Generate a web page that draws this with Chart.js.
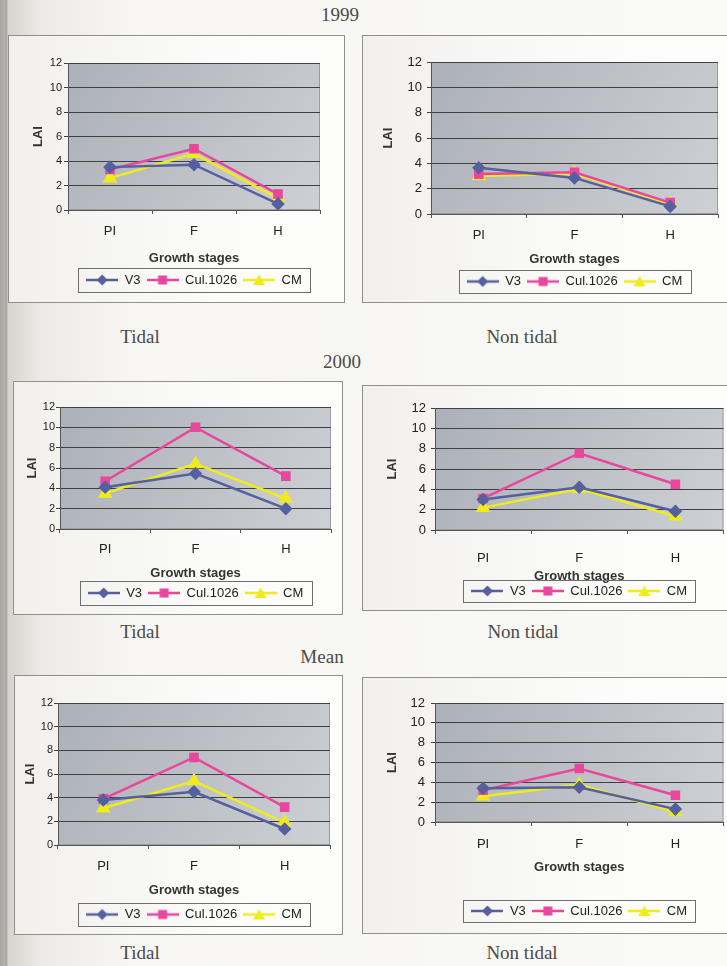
<!DOCTYPE html>
<html lang="en">
<head>
<meta charset="UTF-8">
<title>LAI at growth stages</title>
<script src="https://cdn.jsdelivr.net/npm/chart.js"></script>
<style>
  body {
    margin: 0;
    width: 727px;
    height: 966px;
    overflow: hidden;
    position: relative;
    background: linear-gradient(to right, #a6a49f 0, #b9b7b2 5px, #9d9b96 6px, #d6d4ce 8px, #ebeae6 40px, #f7f6f3 130px, #f9f9f7 100%);
    font-family: "Liberation Serif", "Times New Roman", serif;
  }
  .lbl {
    position: absolute;
    transform: translate(-50%, -50%);
    color: #4a4a4a;
    font-size: 19px;
    white-space: nowrap;
  }
  .box {
    position: absolute;
    border: 1px solid #8f8f8f;
    background: linear-gradient(to right, #f1f0ed, #fbfbf9 60%, #fdfdfc);
  }
  .box canvas { position: absolute; left: -1px; top: -1px; }
</style>
</head>
<body>
<div class="lbl" style="left:340px;top:15px">1999</div>
<div class="lbl" style="left:342px;top:362px">2000</div>
<div class="lbl" style="left:322px;top:657px">Mean</div>
<div class="lbl" style="left:140px;top:337px">Tidal</div>
<div class="lbl" style="left:522px;top:337px">Non tidal</div>
<div class="lbl" style="left:140px;top:632px">Tidal</div>
<div class="lbl" style="left:523px;top:632px">Non tidal</div>
<div class="lbl" style="left:140px;top:953px">Tidal</div>
<div class="lbl" style="left:522px;top:953px">Non tidal</div>

<div class="box" id="b1"><canvas id="c1"></canvas></div>
<div class="box" id="b2"><canvas id="c2"></canvas></div>
<div class="box" id="b3"><canvas id="c3"></canvas></div>
<div class="box" id="b4"><canvas id="c4"></canvas></div>
<div class="box" id="b5"><canvas id="c5"></canvas></div>
<div class="box" id="b6"><canvas id="c6"></canvas></div>

<script>
  // growth stages and varieties
  const stages = ['PI', 'F', 'H'];
  const seriesNames = ['V3', 'Cul.1026', 'CM'];
  const yMin = 0, yMax = 12, yStep = 2;

  // LAI
  const v3Tidal1999 = [3.5, 3.7, 0.5];
  const culTidal1999 = [3.3, 5.0, 1.3];
  const cmTidal1999 = [2.6, 4.6, 0.95];

  const v3NonTidal1999 = [3.65, 2.85, 0.6];
  const culNonTidal1999 = [3.15, 3.3, 0.9];
  const cmNonTidal1999 = [3.0, 3.2, 0.8];

  const v3Tidal2000 = [4.1, 5.45, 2.0];
  const culTidal2000 = [4.7, 10.0, 5.2];
  const cmTidal2000 = [3.5, 6.4, 3.0];

  const v3NonTidal2000 = [3.0, 4.2, 1.85];
  const culNonTidal2000 = [3.1, 7.55, 4.5];
  const cmNonTidal2000 = [2.2, 4.05, 1.35];

  const v3TidalMean = [3.8, 4.5, 1.35];
  const culTidalMean = [3.9, 7.4, 3.2];
  const cmTidalMean = [3.1, 5.4, 1.9];

  const v3NonTidalMean = [3.4, 3.5, 1.3];
  const culNonTidalMean = [3.2, 5.4, 2.7];
  const cmNonTidalMean = [2.6, 3.75, 1.0];

  const seriesColors = ['#55609e', '#e8479c', '#f0ec1c'];
  const markerStyles = ['rectRot', 'rect', 'triangle'];
  const sansFont = '"Liberation Sans", Arial, sans-serif';

  // small line + marker picture for the legend, like Excel's
  function legendIcon(color, style) {
    var c = document.createElement('canvas');
    c.width = 32; c.height = 14;
    var x = c.getContext('2d');
    x.strokeStyle = color; x.lineWidth = 2.5;
    x.beginPath(); x.moveTo(0, 7); x.lineTo(32, 7); x.stroke();
    x.fillStyle = color;
    x.beginPath();
    if (style === 'rectRot') {
      x.moveTo(16, 1.5); x.lineTo(21.5, 7); x.lineTo(16, 12.5); x.lineTo(10.5, 7);
    } else if (style === 'rect') {
      x.rect(11.5, 2.5, 9, 9);
    } else {
      x.moveTo(16, 1.5); x.lineTo(22, 12); x.lineTo(10, 12);
    }
    x.closePath(); x.fill();
    return c;
  }
  const icons = seriesColors.map((c, i) => legendIcon(c, markerStyles[i]));

  // grey plot area and the frame round the legend
  const excelLook = {
    id: 'excelLook',
    beforeDraw(chart) {
      var ctx = chart.ctx, a = chart.chartArea;
      var g = ctx.createLinearGradient(a.left, a.top, a.right, a.bottom);
      g.addColorStop(0, '#acb0b8');
      g.addColorStop(1, '#cdd0d4');
      ctx.save();
      ctx.fillStyle = g;
      ctx.fillRect(a.left, a.top, a.right - a.left, a.bottom - a.top);
      ctx.strokeStyle = '#9a9ca0';
      ctx.lineWidth = 1;
      ctx.strokeRect(a.left + 0.5, a.top + 0.5, a.right - a.left - 1, a.bottom - a.top - 1);
      ctx.restore();
    },
    afterDraw(chart) {
      var lg = chart.legend, hb = lg.legendHitBoxes;
      if (!hb || !hb.length) return;
      var fs = chart.options.plugins.legend.labels.font.size;
      var left = Math.min.apply(null, hb.map(h => h.left)) - 8;
      var right = Math.max.apply(null, hb.map(h => h.left + h.width)) + 8;
      var cy = hb[0].top + fs / 2;
      var half = chart.$legendHalf;
      var ctx = chart.ctx;
      ctx.save();
      ctx.strokeStyle = '#6f6f6f';
      ctx.lineWidth = 1;
      ctx.strokeRect(Math.round(left) + 0.5, Math.round(cy - half) + 0.5, Math.round(right - left), Math.round(half * 2));
      ctx.restore();
    }
  };

  function drawChart(n, box, lay, v3, cul, cm) {
    var div = document.getElementById('b' + n);
    div.style.left = box.x + 'px';
    div.style.top = box.y + 'px';
    div.style.width = (box.w - 2) + 'px';
    div.style.height = (box.h - 2) + 'px';
    var cv = document.getElementById('c' + n);
    cv.width = box.w; cv.height = box.h;

    var fs = lay.fs, yfs = lay.yFs || fs, lh = fs * 1.2, tickLen = 4, legPad = 6;
    var legCenter = (lay.legTop + lay.legBot) / 2;
    var legendTop = legCenter - legPad - fs / 2;
    var legendH = fs + legPad + 10;
    var padBottom = box.h - (legendTop + legendH);
    var xAxisH = legendTop - lay.b;

    var values = [v3, cul, cm];
    var chart = new Chart(cv.getContext('2d'), {
      type: 'line',
      data: {
        labels: stages,
        datasets: seriesNames.map((name, i) => ({
          label: name,
          data: values[i],
          borderColor: seriesColors[i],
          backgroundColor: seriesColors[i],
          pointBackgroundColor: seriesColors[i],
          pointBorderColor: seriesColors[i],
          pointStyle: markerStyles[i],
          pointRadius: i === 2 ? 6 : 5,
          borderWidth: 2.5,
          tension: 0
        }))
      },
      options: {
        responsive: false,
        animation: false,
        layout: { padding: { left: 0, top: lay.t, right: box.w - lay.r, bottom: padBottom } },
        scales: {
          x: {
            offset: true,
            grid: { offset: true, drawOnChartArea: false, drawTicks: true, tickLength: tickLen, color: '#555' },
            border: { color: '#555' },
            ticks: { color: '#222', font: { family: sansFont, size: fs }, padding: lay.xLab - fs / 2 - tickLen },
            title: {
              display: true, text: 'Growth stages', color: '#333',
              font: { family: sansFont, size: fs, weight: 'bold' },
              padding: { top: 0, bottom: xAxisH - lay.xTitle - lh / 2 }
            },
            afterFit(s) { s.height = xAxisH; }
          },
          y: {
            min: yMin, max: yMax,
            grid: { color: '#3f4045', tickLength: tickLen, drawTicks: true },
            border: { color: '#555' },
            ticks: { stepSize: yStep, color: '#222', font: { family: sansFont, size: yfs }, padding: lay.yGap - tickLen },
            title: {
              display: true, text: 'LAI', color: '#333',
              font: { family: sansFont, size: fs, weight: 'bold' },
              padding: { top: lay.laiX - lh / 2, bottom: 0 }
            },
            afterFit(s) { s.width = lay.l; }
          }
        },
        plugins: {
          legend: {
            position: 'bottom',
            fullSize: false,
            labels: {
              usePointStyle: true,
              pointStyleWidth: 32,
              padding: legPad,
              color: '#222',
              font: { family: sansFont, size: fs },
              generateLabels: c => c.data.datasets.map((ds, i) => ({
                text: ds.label, pointStyle: icons[i], datasetIndex: i, hidden: false,
                fillStyle: ds.borderColor, strokeStyle: ds.borderColor, lineWidth: 0, fontColor: '#222'
              }))
            }
          },
          tooltip: { enabled: false }
        }
      },
      plugins: [excelLook]
    });
    chart.$legendHalf = (lay.legBot - lay.legTop) / 2;
    chart.draw();
  }

  drawChart(1, { x: 8, y: 35, w: 337, h: 268 },
    { l: 60, t: 28, r: 312, b: 175, yGap: 6, laiX: 30, xLab: 20, xTitle: 48, legTop: 233, legBot: 257, fs: 13, yFs: 11 },
    v3Tidal1999, culTidal1999, cmTidal1999);
  drawChart(2, { x: 362, y: 35, w: 370, h: 268 },
    { l: 69, t: 27, r: 356, b: 179, yGap: 9, laiX: 26, xLab: 20, xTitle: 45, legTop: 235, legBot: 258, fs: 13 },
    v3NonTidal1999, culNonTidal1999, cmNonTidal1999);
  drawChart(3, { x: 13, y: 381, w: 330, h: 234 },
    { l: 47, t: 26, r: 318, b: 148, yGap: 5, laiX: 19, xLab: 19, xTitle: 44, legTop: 200, legBot: 224, fs: 13, yFs: 11 },
    v3Tidal2000, culTidal2000, cmTidal2000);
  drawChart(4, { x: 362, y: 385, w: 370, h: 226 },
    { l: 73, t: 23, r: 363, b: 145, yGap: 9, laiX: 30, xLab: 27, xTitle: 46, legTop: 195, legBot: 217, fs: 13 },
    v3NonTidal2000, culNonTidal2000, cmNonTidal2000);
  drawChart(5, { x: 14, y: 675, w: 329, h: 260 },
    { l: 44, t: 28, r: 316, b: 170, yGap: 5, laiX: 16, xLab: 20, xTitle: 45, legTop: 228, legBot: 251, fs: 13, yFs: 11 },
    v3TidalMean, culTidalMean, cmTidalMean);
  drawChart(6, { x: 362, y: 677, w: 370, h: 257 },
    { l: 73, t: 26, r: 363, b: 145, yGap: 10, laiX: 30, xLab: 21, xTitle: 45, legTop: 223, legBot: 245, fs: 13 },
    v3NonTidalMean, culNonTidalMean, cmNonTidalMean);
</script>
</body>
</html>
